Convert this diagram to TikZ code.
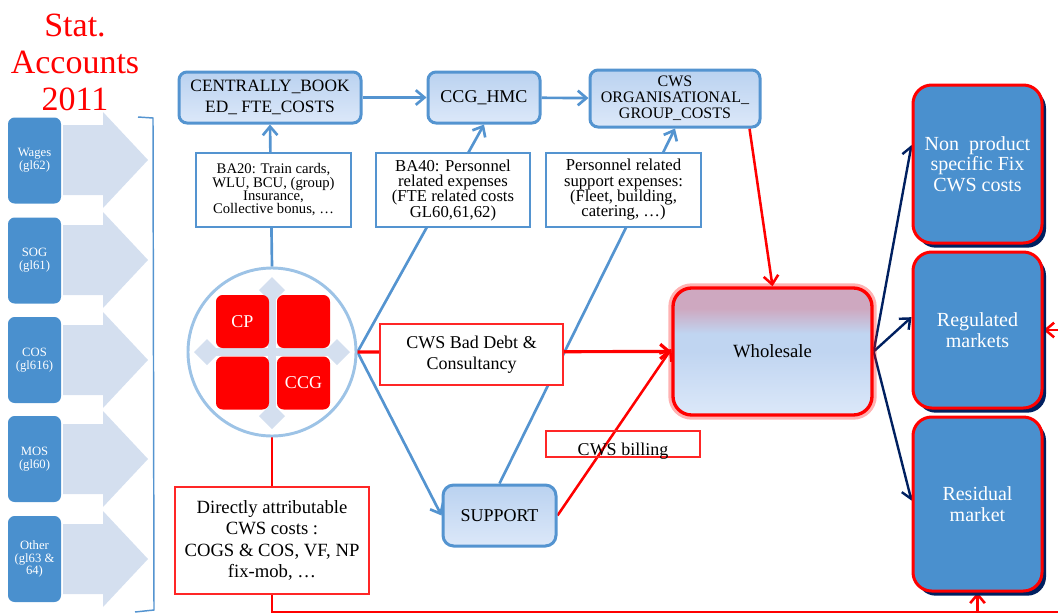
\documentclass[tikz,border=0pt]{standalone}
\usepackage{fontspec}
\setmainfont{Liberation Serif}
\usetikzlibrary{arrows.meta,shadows,backgrounds}

\definecolor{cwsblue}{RGB}{74,144,206}
\definecolor{lineblue}{RGB}{84,148,208}
\definecolor{paleblue}{RGB}{212,223,239}
\definecolor{ringblue}{RGB}{157,195,230}
\definecolor{boxtop}{RGB}{186,210,240}
\definecolor{boxbot}{RGB}{220,232,249}
\definecolor{pinktop}{RGB}{206,168,192}
\definecolor{midblue}{RGB}{192,213,241}
\definecolor{navy}{RGB}{0,32,96}

\pgfdeclareverticalshading{wholeshade}{100bp}{color(0bp)=(boxbot); color(25bp)=(boxbot); color(50bp)=(midblue); color(57bp)=(midblue); color(67bp)=(pinktop); color(100bp)=(pinktop)}

\tikzset{every picture/.style={line width=0.75pt}}
\tikzset{
  boxsize/.style 2 args={minimum width=#1*0.75pt, minimum height=#2*0.75pt},
  sideitem/.style={fill=cwsblue, rounded corners=5pt, inner sep=0pt, align=center, text=white, font=\fontsize{9.5}{9.5}\selectfont, boxsize={53}{86}},
  costbox/.style={draw=lineblue, line width=2.25pt, rounded corners=6pt, top color=boxtop, bottom color=boxbot, inner sep=0pt, align=center},
  notebox/.style={draw=lineblue, line width=1pt, fill=white, inner sep=0pt, align=center, font=\fontsize{12.5}{11.5}\selectfont},
  redbox/.style={draw=red!85, line width=1.2pt, fill=white, inner sep=0pt, align=center},
  redsquare/.style={fill=red, rounded corners=5pt, boxsize={53}{53}, inner sep=0pt, text=white, font=\fontsize{13.5}{14}\selectfont},
  marketbox/.style={draw=red, line width=2.25pt, fill=cwsblue, rounded corners=14pt, inner sep=0pt, align=center, text=white, font=\fontsize{15}{15.5}\selectfont, drop shadow={shadow xshift=3pt, shadow yshift=-3.5pt, fill=navy, opacity=1}},
  bluecon/.style={draw=lineblue, line width=2pt, -{Straight Barb[length=6.5pt,width=11pt]}},
  redcon/.style={draw=red, line width=1.9pt, -{Straight Barb[length=6.5pt,width=11pt]}},
  navycon/.style={draw=navy, line width=1.8pt, -{Straight Barb[length=6.5pt,width=11pt]}},
}

\begin{document}
\begin{tikzpicture}[x=0.75pt,y=0.75pt,yscale=-1,xscale=1]
\useasboundingbox (0,0) rectangle (1058,615);

%Title
\node[text=red, align=center, font=\fontsize{25.5}{27.75}\selectfont] (title) at (75,62) {Stat.\\Accounts\\2011};

%Shape: Arrows behind the accounts
\fill[paleblue] (63,125) -- (103,125) -- (103,112) -- (148,160) -- (103,208) -- (103,195) -- (63,195) -- cycle;
\fill[paleblue] (63,225) -- (103,225) -- (103,212) -- (148,260) -- (103,308) -- (103,295) -- (63,295) -- cycle;
\fill[paleblue] (63,325) -- (103,325) -- (103,312) -- (148,360) -- (103,408) -- (103,395) -- (63,395) -- cycle;
\fill[paleblue] (63,424) -- (103,424) -- (103,411) -- (148,459) -- (103,507) -- (103,494) -- (63,494) -- cycle;
\fill[paleblue] (63,524) -- (103,524) -- (103,511) -- (148,559) -- (103,607) -- (103,594) -- (63,594) -- cycle;

%Accounts
\node[sideitem] (wages) at (34.5,160.5) {Wages\\(gl62)};
\node[sideitem] (sog) at (34.5,260.5) {SOG\\(gl61)};
\node[sideitem] (cos) at (34.5,360) {COS\\(gl616)};
\node[sideitem] (mos) at (34.5,459) {MOS\\(gl60)};
\node[sideitem] (other) at (34.5,559) {Other\\(gl63 \&\\64)};

%Straight Lines: bracket
\draw[lineblue, line width=1.1pt] (138,117) -- (153,118) -- (154,610) -- (135,612);

%Cost pools
\node[costbox, boxsize={182}{51}, font=\fontsize{13}{16}\selectfont] (central) at (270,97.5) {CENTRALLY\_BOOK\\ED\_ FTE\_COSTS};
\node[costbox, boxsize={112}{51}, font=\fontsize{13.5}{16}\selectfont] (ccghmc) at (484,97.5) {CCG\_HMC};
\node[costbox, boxsize={170}{57}, font=\fontsize{12}{12}\selectfont] (cwsorg) at (675,98.5) {CWS\\ORGANISATIONAL\_\\GROUP\_COSTS};

%Shape: Circle with the entities
\node[circle, draw=ringblue, line width=2.2pt, minimum size=168*0.75pt, inner sep=0pt] (hub) at (272,352) {};
\fill[paleblue] (268,290) rectangle (276,416);
\fill[paleblue] (207,348) rectangle (337,356);
\fill[paleblue] (272,277) -- (285,290) -- (272,303) -- (259,290) -- cycle;
\fill[paleblue] (272,403) -- (285,416) -- (272,429) -- (259,416) -- cycle;
\fill[paleblue] (194,352) -- (207,339) -- (220,352) -- (207,365) -- cycle;
\fill[paleblue] (324,352) -- (337,339) -- (350,352) -- (337,365) -- cycle;
\node[redsquare] (cp) at (242.5,321.5) {CP};
\node[redsquare] (sqtr) at (303.5,321.5) {};
\node[redsquare] (sqbl) at (242.5,383) {};
\node[redsquare] (ccg) at (303.5,383) {CCG};

%Support and wholesale
\node[costbox, rounded corners=8pt, boxsize={113}{61}, font=\fontsize{13.5}{16}\selectfont] (support) at (499.5,515.5) {SUPPORT};
\node[draw=red, line width=2.5pt, rounded corners=14pt, shading=wholeshade, inner sep=0pt, boxsize={199}{127}, font=\fontsize{14}{16}\selectfont, preaction={draw=red, line width=7pt, opacity=0.3}] (wholesale) at (772.5,351.5) {Wholesale};

%Markets
\node[marketbox, boxsize={129}{158}] (nonprod) at (977.5,164) {Non\ \ product\\specific Fix\\CWS costs};
\node[marketbox, boxsize={129}{156}] (regulated) at (977.5,330) {Regulated\\markets};
\node[marketbox, boxsize={129}{174}] (residual) at (977.5,504) {Residual\\market};

%Labels
\node[notebox, boxsize={155}{74}, font=\fontsize{11}{10}\selectfont] (ba20) at (273.5,190) {BA20: Train cards,\\WLU, BCU, (group)\\Insurance,\\Collective bonus, \dots};
\node[notebox, boxsize={154}{74}] (ba40) at (453,190) {BA40: Personnel\\related expenses\\(FTE related costs\\GL60,61,62)};
\node[notebox, boxsize={155}{74}] (persexp) at (623.5,190) {Personnel related\\support expenses:\\(Fleet, building,\\catering, \dots)};
\node[redbox, boxsize={183}{61}, font=\fontsize{13.5}{16}\selectfont] (baddebt) at (471.5,354.5) {CWS Bad Debt \&\\Consultancy};
\node[redbox, fill=none, boxsize={154}{26}, text height=17pt, text depth=0.5pt, font=\fontsize{13.5}{16}\selectfont] (billing) at (623,444) {CWS billing};
\node[redbox, boxsize={194}{107}, font=\fontsize{14}{16}\selectfont] (direct) at (272,540.5) {Directly attributable\\CWS costs :\\COGS \& COS, VF, NP\\fix-mob, \dots};

\coordinate (regin) at (1058,330);
\coordinate (botright) at (1058,612);

\begin{scope}[on background layer]
%Straight Lines
\draw[bluecon] (central) -- (ccghmc);
\draw[bluecon] (ccghmc) -- (cwsorg);
\draw[bluecon] (hub.north) -- (central.south);
\draw[bluecon] (hub.east) -- (ccghmc.south);
\draw[bluecon] (hub.east) -- (support.west);
\draw[bluecon] (support.north) -- (cwsorg.south);
\draw[redcon, line width=2.4pt] (hub.east) -- (wholesale.west);
\draw[redcon] (support.east) -- ([yshift=-2pt]wholesale.west);
\draw[redcon] ([xshift=-9pt]cwsorg.south east) -- (wholesale.north);
\draw[navycon] (wholesale.east) -- (nonprod.164);
\draw[navycon] (wholesale.east) -- (regulated.169);
\draw[navycon] (wholesale.east) -- (residual.177);
\draw[redcon] (regin) -- (regulated.east);
\draw[red, line width=1.9pt] (hub.south) -- (direct.north);
\draw[red, line width=1.9pt] (direct.south) |- (botright);
\draw[redcon] (residual.south |- botright) -- (residual.south);
\end{scope}

\end{tikzpicture}
\end{document}
